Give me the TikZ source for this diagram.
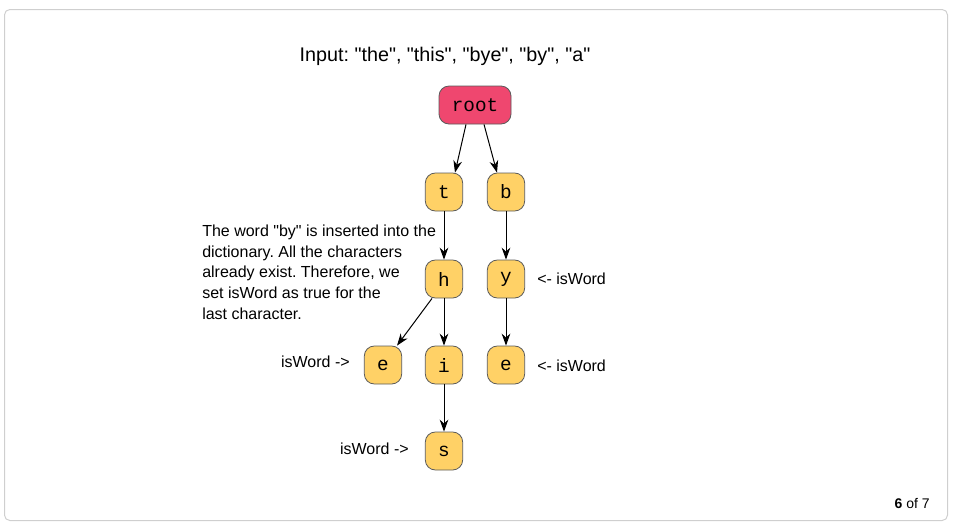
\documentclass[tikz,border=0pt]{standalone}
\usepackage{fontspec}
\setmainfont{Liberation Sans}[Ligatures=TeXOff]
\newfontfamily\codefont{Liberation Mono}
\usetikzlibrary{arrows.meta}
\frenchspacing
\definecolor{rootfill}{HTML}{EF476F}
\definecolor{charfill}{HTML}{FFD166}
\definecolor{nodeline}{HTML}{5A5A5A}
\definecolor{framecol}{HTML}{CFCFCF}
\tikzset{
  trienode/.style={draw=nodeline, line width=0.6pt, rounded corners=7.5pt,
    minimum width=28pt, minimum height=28.5pt, inner sep=0pt,
    font=\codefont\fontsize{14.5}{17}\selectfont},
  charnode/.style={trienode, fill=charfill},
  rootnode/.style={trienode, fill=rootfill, minimum width=54pt, minimum height=28.5pt},
  link/.style={line width=0.75pt, -{Stealth[length=9pt,width=6.5pt]}},
  label/.style={font=\fontsize{12}{15.4}\selectfont, inner sep=0pt},
}
\begin{document}
\begin{tikzpicture}[x=0.75pt, y=-0.75pt]
  \useasboundingbox (0,0) rectangle (953,526);
  \draw[framecol, line width=0.75pt, rounded corners=4pt] (4.5,9.5) rectangle (947.5,520.5);

  % heading
  \node[font=\fontsize{14.8}{17}\selectfont, inner sep=0pt] (title) at (445,56) {Input: "the", "this", "bye", "by", "a"};

  % trie nodes
  \node[rootnode] (root) at (475,105) {root};
  \node[charnode] (t)  at (444,192) {t};
  \node[charnode] (b)  at (506,192) {b};
  \node[charnode] (h)  at (444,279) {h};
  \node[charnode] (y)  at (506,279) {y};
  \node[charnode] (e1) at (383,365) {e};
  \node[charnode] (i)  at (444,365) {i};
  \node[charnode] (e2) at (506,365) {e};
  \node[charnode] (s)  at (444,451) {s};

  % edges
  \draw[link] ([xshift=-6.75pt]root.south) -- ([xshift=8.25pt]t.north);
  \draw[link] ([xshift=6.75pt]root.south) -- ([xshift=-6.75pt]b.north);
  \draw[link] (t) -- (h);
  \draw[link] (b) -- (y);
  \draw[link] ([xshift=-9pt]h.south) -- ([xshift=10.5pt]e1.north);
  \draw[link] (h) -- (i);
  \draw[link] (y) -- (e2);
  \draw[link] (i) -- (s);

  % word markers
  \node[label, anchor=west] (my)  at (537,279) {<- isWord};
  \node[label, anchor=west] (me2) at (537,366) {<- isWord};
  \node[label, anchor=east] (me1) at (350,362) {isWord ->};
  \node[label, anchor=east] (ms)  at (409,449) {isWord ->};

  % explanation
  \node[label, anchor=north west, align=left] (note) at (202,225)
    {The word "by" is inserted into the\\dictionary. All the characters\\already exist. Therefore, we\\set isWord as true for the\\last character.};

  % step counter
  \node[anchor=east, inner sep=0pt, font=\fontsize{10.5}{12}\selectfont] (page) at (930,503) {\textbf{6} of 7};
\end{tikzpicture}
\end{document}
